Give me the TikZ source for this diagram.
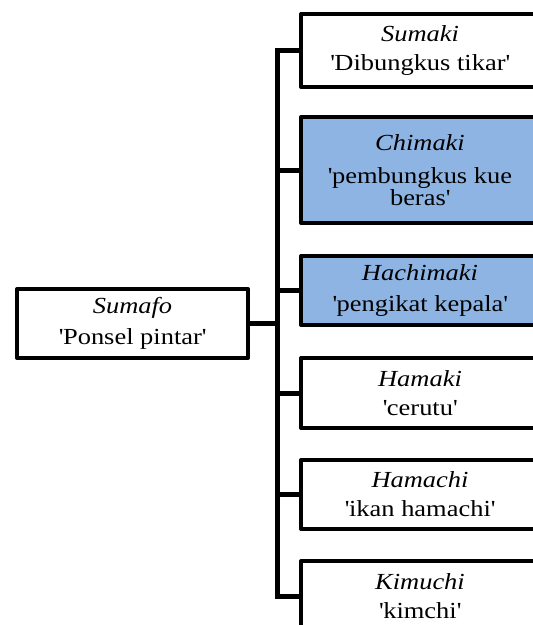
\documentclass[tikz,border=0pt]{standalone}
\usepackage{fontspec}
\setmainfont[FakeStretch=1.15]{Liberation Serif}
\newcommand\sq{\textquotesingle}
\definecolor{boxblue}{HTML}{8EB4E3}
\tikzset{
  wbox/.style={draw=black, line width=4pt, line join=round, fill=white, rectangle,
    align=center, inner sep=0pt, anchor=north west,
    font=\fontsize{23}{22}\selectfont},
  bbox/.style={wbox, fill=boxblue},
  conn/.style={draw=black, line width=5pt},
}
\begin{document}
\begin{tikzpicture}[x=1pt,y=-1pt]
\useasboundingbox (0,0) rectangle (533,625);
\node[wbox, minimum width=231pt, minimum height=69pt] (L) at (15,287)
  {\textit{Sumafo}\\[9pt] \sq Ponsel pintar\sq};
\node[wbox, minimum width=238pt, minimum height=73pt] (B1) at (299,12)
  {\textit{Sumaki}\\[7pt] \sq Dibungkus tikar\sq};
\node[bbox, minimum width=238pt, minimum height=106pt] (B2) at (299,115)
  {\textit{Chimaki}\\[11pt] \sq pembungkus kue\\ beras\sq};
\node[bbox, minimum width=238pt, minimum height=69pt] (B3) at (299,254)
  {\textit{Hachimaki}\\[9pt] \sq pengikat kepala\sq};
\node[wbox, minimum width=238pt, minimum height=70pt] (B4) at (299,356)
  {\textit{Hamaki}\\[7pt] \sq cerutu\sq};
\node[wbox, minimum width=238pt, minimum height=69pt] (B5) at (299,458)
  {\textit{Hamachi}\\[7pt] \sq ikan hamachi\sq};
\node[wbox, minimum width=238pt, minimum height=70pt] (B6) at (299,559)
  {\textit{Kimuchi}\\[7pt] \sq kimchi\sq};
\coordinate (T) at (277,0);
\draw[conn] (B1.west) -- (B1.west -| T) -- (B6.west -| T) -- (B6.west);
\draw[conn] (B2.west) -- (B2.west -| T);
\draw[conn] (B3.west) -- (B3.west -| T);
\draw[conn] (B4.west) -- (B4.west -| T);
\draw[conn] (B5.west) -- (B5.west -| T);
\draw[conn] (L.east) -- (L.east -| T);
\end{tikzpicture}
\end{document}
